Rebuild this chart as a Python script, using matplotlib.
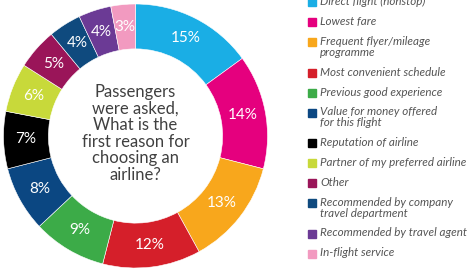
import matplotlib
matplotlib.use("Agg")
import matplotlib.pyplot as plt
from matplotlib.patches import Rectangle
import numpy as np

# data
categories = [
    "Direct flight (nonstop)",
    "Lowest fare",
    "Frequent flyer/mileage\nprogramme",
    "Most convenient schedule",
    "Previous good experience",
    "Value for money offered\nfor this flight",
    "Reputation of airline",
    "Partner of my preferred airline",
    "Other",
    "Recommended by company\ntravel department",
    "Recommended by travel agent",
    "In-flight service",
]
values = [15, 14, 13, 12, 9, 8, 7, 6, 5, 4, 4, 3]
colors = [
    "#1aaee5", "#e5007e", "#f8a71c", "#d51f2a", "#3cab48", "#0b4782",
    "#000000", "#c8d93a", "#9a1559", "#0f4a7e", "#6b3a95", "#f29ac0",
]
center_text = "Passengers\nwere asked,\nWhat is the\nfirst reason for\nchoosing an\nairline?"

W, H = 474, 273
plt.rcParams["font.family"] = ["Lato", "DejaVu Sans"]

fig = plt.figure(figsize=(W / 100, H / 100), dpi=100)
fig.patch.set_facecolor("white")

# donut: centre (135.5, 136) px, radius 132 px
cx, cy, r = 135.5, 136, 132
ax = fig.add_axes([(cx - r) / W, (H - cy - r) / H, 2 * r / W, 2 * r / H])
inner = 0.66
wedges, _ = ax.pie(values, colors=colors, startangle=90, counterclock=False,
                   radius=1, wedgeprops=dict(width=1 - inner, edgecolor="white", linewidth=0.4))
ax.set_xlim(-1, 1)
ax.set_ylim(-1, 1)
ax.axis("off")

lr = (1 + inner) / 2
for w, v in zip(wedges, values):
    ang = np.deg2rad((w.theta1 + w.theta2) / 2)
    ax.text(lr * np.cos(ang), lr * np.sin(ang), f"{v}%", color="white",
            fontsize=11, ha="center", va="center")

ax.text(0, 0.02, center_text, ha="center", va="center", fontsize=12,
        color="#404040", linespacing=1.05)

# legend drawn by hand, pixel layout
y = 2
for name, c in zip(categories, colors):
    fig.patches.append(Rectangle((308 / W, 1 - (y + 4) / H), 8 / W, 8 / H,
                                 transform=fig.transFigure, color=c))
    fig.text(320 / W, 1 - (y - 6) / H, name, ha="left", va="top", fontsize=8.4,
             style="italic", color="#555555", linespacing=1.0)
    y += 20 + 10.5 * name.count("\n")

fig.savefig("out.png", dpi=100)
